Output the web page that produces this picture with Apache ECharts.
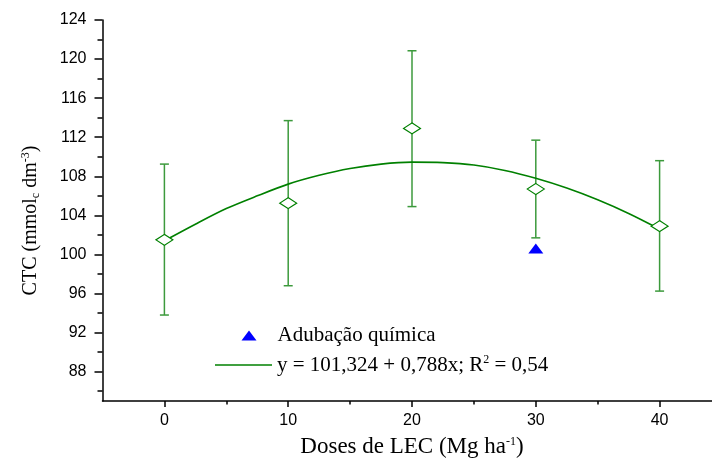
<!DOCTYPE html>
<html>
<head>
<meta charset="utf-8">
<script src="https://cdn.jsdelivr.net/npm/echarts@6/dist/echarts.min.js"></script>
<style>
  html, body { margin: 0; padding: 0; background: #fff; }
  #chart { width: 712px; height: 459px; }
</style>
</head>
<body>
<div id="chart"></div>
<script>
// doses (Mg/ha) and measured CTC means with error bar limits
const doses = [0, 10, 20, 30, 40]
const ctcMean = [101.5, 105.25, 112.9, 106.7, 102.9]
const ctcLow = [93.8, 96.8, 104.9, 101.7, 96.25]
const ctcHigh = [109.25, 113.7, 120.85, 111.7, 109.6]

// chemical fertilization point
const quimicaX = [30]
const quimicaY = [100.6]

// fitted curve
const fitX = [0, 2.5, 5, 7.5, 10, 12.5, 15, 17.5, 20, 22.5, 25, 27.5, 30, 32.5, 35, 37.5, 40]
const fitY = [101.4, 103.1, 104.7, 106.0, 107.2, 108.1, 108.8, 109.25, 109.45, 109.4, 109.15, 108.6, 107.8, 106.8, 105.6, 104.2, 102.6]

// tick labels
const xMajor = [0, 10, 20, 30, 40]
const xMinor = [5, 15, 25, 35]
const yMajor = [88, 92, 96, 100, 104, 108, 112, 116, 120, 124]
const yMinor = [86, 90, 94, 98, 102, 106, 110, 114, 118, 122]

const serif = '"Liberation Serif", "Times New Roman", serif'
const sans = '"Liberation Sans", Arial, sans-serif'
const green = '#008000'
const eqName = 'eq'

const chart = echarts.init(document.getElementById('chart'))

const baseX = {
  type: 'value',
  min: -5,
  max: 45,
  position: 'bottom',
  splitLine: { show: false }
}
const baseY = {
  type: 'value',
  min: 85,
  max: 124,
  position: 'left',
  splitLine: { show: false }
}

const supRich = {
  t: { fontFamily: serif, fontSize: 21, color: '#000', lineHeight: 22 },
  sup: { fontFamily: serif, fontSize: 12, color: '#000', verticalAlign: 'top', lineHeight: 12, padding: [0, 0, 8, 0] },
  sub: { fontFamily: serif, fontSize: 12, color: '#000', verticalAlign: 'bottom', lineHeight: 12, padding: [8, 0, 0, 0] }
}

chart.setOption({
  backgroundColor: '#fff',
  animation: false,
  grid: { left: 102.5, right: -9.5, top: 20, bottom: 58, outerBoundsMode: 'none' },
  xAxis: [
    {
      ...baseX,
      name: '{t|Doses de LEC (Mg ha}{sup|-1}{t|)}',
      nameLocation: 'middle',
      nameGap: 35,
      nameTextStyle: { rich: { ...supRich, t: { ...supRich.t, fontSize: 23 } } },
      axisLine: { onZero: false, lineStyle: { color: '#000', width: 1.5 } },
      axisTick: { inside: false, length: 6, customValues: xMajor, lineStyle: { color: '#000', width: 1.5 } },
      axisLabel: { customValues: xMajor, margin: 12, fontFamily: sans, fontSize: 16, color: '#000' }
    },
    {
      ...baseX,
      axisLine: { show: false, onZero: false },
      axisTick: { length: 3.5, customValues: xMinor, lineStyle: { color: '#000', width: 1.5 } },
      axisLabel: { show: false }
    }
  ],
  yAxis: [
    {
      ...baseY,
      name: '{t|CTC (mmol}{sub|c}{t| dm}{sup|-3}{t|)}',
      nameLocation: 'middle',
      nameGap: 61,
      nameRotate: 90,
      nameTextStyle: { padding: [0, 20, 0, 0], rich: { ...supRich, t: { ...supRich.t, fontSize: 20 } } },
      axisLine: { show: true, onZero: false, lineStyle: { color: '#000', width: 1.5 } },
      axisTick: { show: true, length: 8, customValues: yMajor, lineStyle: { color: '#000', width: 1.5 } },
      axisLabel: { customValues: yMajor, margin: 16, fontFamily: sans, fontSize: 16, color: '#000' }
    },
    {
      ...baseY,
      axisLine: { show: false, onZero: false },
      axisTick: { show: true, length: 5, customValues: yMinor, lineStyle: { color: '#000', width: 1.5 } },
      axisLabel: { show: false }
    }
  ],
  legend: [
    {
      orient: 'vertical',
      left: 241.5,
      top: 325,
      padding: 0,
      itemWidth: 15,
      itemHeight: 10,
      symbolKeepAspect: false,
      data: [{ name: 'Adubação química', icon: 'triangle' }],
      textStyle: { fontFamily: serif, fontSize: 21, color: '#000', padding: [0, 0, 0, 16] }
    },
    {
      orient: 'vertical',
      left: 215,
      top: 354,
      padding: 0,
      itemWidth: 57,
      itemHeight: 1.6,
      data: [{ name: eqName, icon: 'rect' }],
      formatter: () => '{t|y = 101,324 + 0,788x; R}{sup|2}{t| = 0,54}',
      textStyle: { rich: supRich }
    }
  ],
  series: [
    {
      type: 'custom',
      name: 'erro',
      z: 2,
      data: doses.map((d, i) => [d, ctcLow[i], ctcHigh[i]]),
      renderItem: (params, api) => {
        const top = api.coord([api.value(0), api.value(2)])
        const bot = api.coord([api.value(0), api.value(1)])
        const w = 4.5
        const style = { stroke: '#3c9a3c', lineWidth: 1.5 }
        return {
          type: 'group',
          children: [
            { type: 'line', shape: { x1: top[0], y1: top[1], x2: bot[0], y2: bot[1] }, style },
            { type: 'line', shape: { x1: top[0] - w, y1: top[1], x2: top[0] + w, y2: top[1] }, style },
            { type: 'line', shape: { x1: bot[0] - w, y1: bot[1], x2: bot[0] + w, y2: bot[1] }, style }
          ]
        }
      }
    },
    {
      type: 'line',
      name: eqName,
      z: 3,
      smooth: 0.3,
      symbol: 'none',
      data: fitX.map((x, i) => [x, fitY[i]]),
      lineStyle: { color: green, width: 1.6 },
      itemStyle: { color: green }
    },
    {
      type: 'scatter',
      name: 'CTC',
      z: 4,
      symbol: 'diamond',
      symbolSize: [17, 11],
      data: doses.map((d, i) => [d, ctcMean[i]]),
      itemStyle: { color: '#fff', borderColor: green, borderWidth: 1.2, opacity: 1 }
    },
    {
      type: 'scatter',
      name: 'Adubação química',
      z: 4,
      symbol: 'triangle',
      symbolSize: [15, 10],
      data: quimicaX.map((x, i) => [x, quimicaY[i]]),
      itemStyle: { color: '#0000ff', opacity: 1 }
    }
  ]
})
</script>
</body>
</html>
